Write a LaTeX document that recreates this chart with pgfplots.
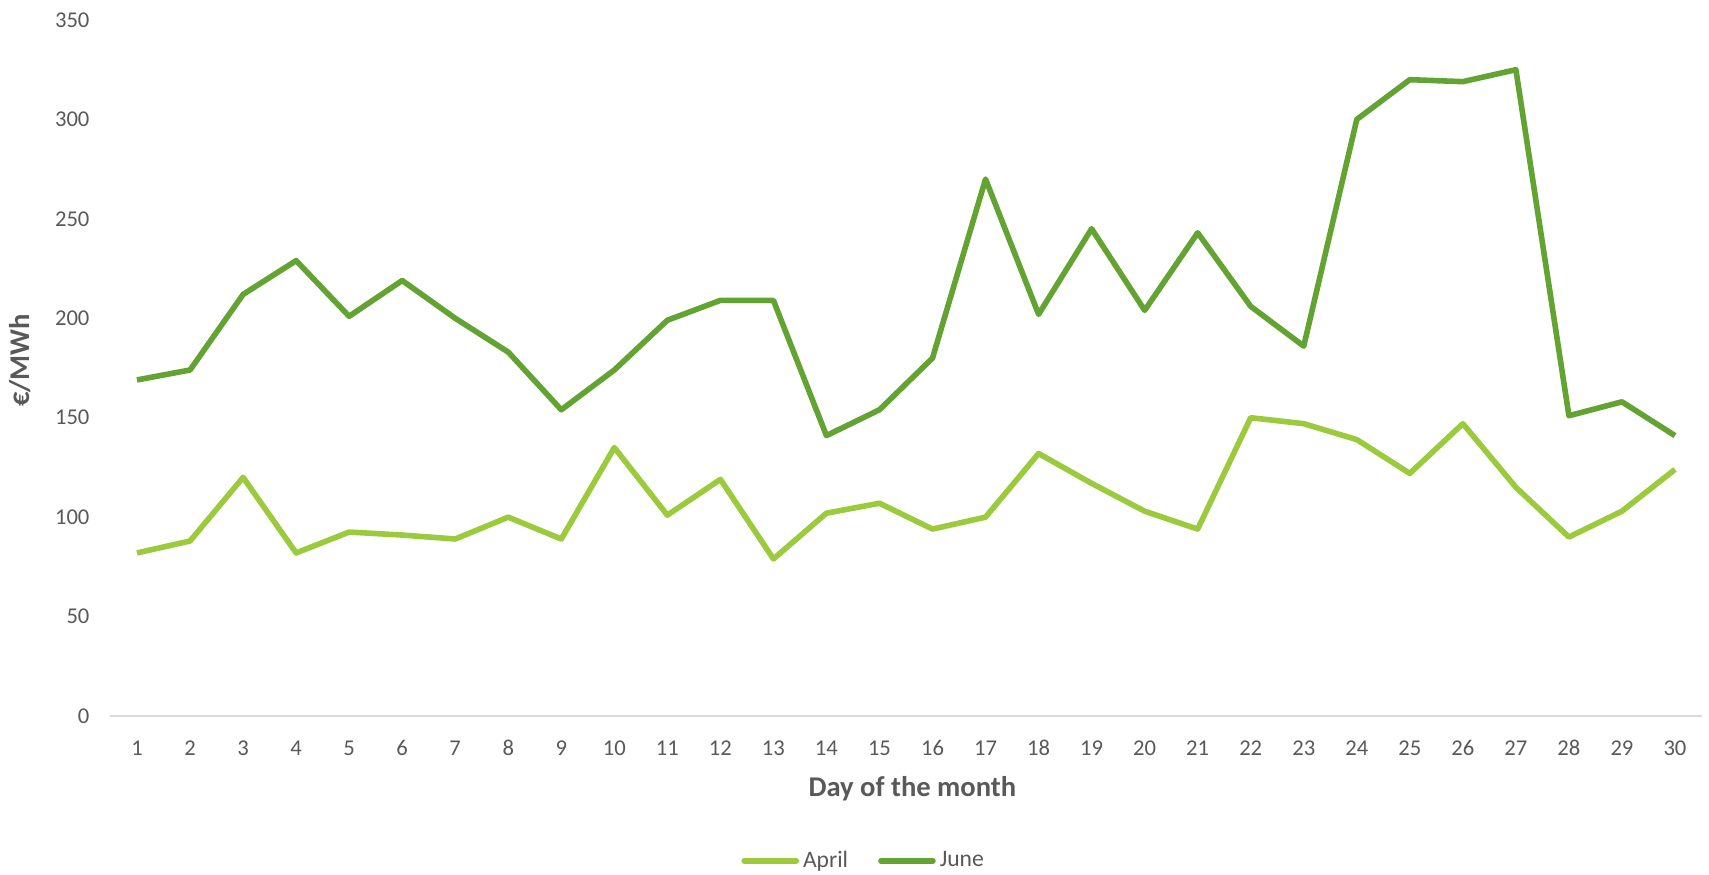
\documentclass[border=0pt]{standalone}
\usepackage{pgfplots}
\pgfplotsset{compat=1.18}
\usepackage{fontspec}
\setmainfont{Carlito}
\definecolor{aprilc}{RGB}{155,202,60}
\definecolor{junec}{RGB}{98,163,50}
\definecolor{txt}{RGB}{89,89,89}
\definecolor{axc}{RGB}{217,217,217}
\begin{document}
\begin{tikzpicture}
\begin{axis}[
  at={(0,0)}, anchor=south west,
  scale only axis,
  width=795.5pt, height=348pt,
  xmin=0.5, xmax=30.5, ymin=0, ymax=350,
  xtick={1,...,30}, ytick={0,50,...,350},
  axis x line*=bottom, axis y line*=left,
  x axis line style={draw=axc, line width=0.8pt, -},
  y axis line style={draw=none},
  major tick length=0pt,
  /pgf/number format/assume math mode=true,
  ticklabel style={font=\fontsize{11.3}{13}\selectfont, text=txt},
  xticklabel style={yshift=-8pt, text height=8pt, text depth=0pt},
  yticklabel style={xshift=-7pt},
  ylabel={\textbf{€/MWh}},
  xlabel={\textbf{Day of the month}},
  label style={font=\fontsize{14.3}{16}\selectfont, text=txt},
  xlabel style={at={(axis description cs:0.504,-0.105)}, anchor=center},
  ylabel style={at={(axis description cs:-0.057,0.511)}, anchor=center},
  legend style={at={(axis description cs:0.474,-0.208)}, anchor=center, draw=none,
    font=\fontsize{11.8}{13}\selectfont, text=txt, legend columns=2,
    /tikz/every even column/.append style={column sep=13pt}},
  legend image code/.code={\draw[#1, line cap=round] (0pt,0pt) -- (26pt,0pt);},
  clip=false,
]
\addplot[aprilc, line width=2.8pt, line join=round] coordinates {
(1,82)(2,88)(3,120)(4,82)(5,92.5)(6,91)(7,89)(8,100)(9,89)(10,135)
(11,101)(12,119)(13,79)(14,102)(15,107)(16,94)(17,100)(18,132)(19,117)(20,103)
(21,94)(22,150)(23,147)(24,139)(25,122)(26,147)(27,115)(28,90)(29,103)(30,124)};
\addlegendentry{April}
\addplot[junec, line width=2.8pt, line join=round] coordinates {
(1,169)(2,174)(3,212)(4,229)(5,201)(6,219)(7,200)(8,183)(9,154)(10,174)
(11,199)(12,209)(13,209)(14,141)(15,154)(16,180)(17,270)(18,202)(19,245)(20,204)
(21,243)(22,206)(23,186)(24,300)(25,320)(26,319)(27,325)(28,151)(29,158)(30,141)};
\addlegendentry{June}
\end{axis}
\pgfresetboundingbox
\path[use as bounding box] (-55.25pt,-79pt) rectangle (799.25pt,358pt);
\end{tikzpicture}
\end{document}
